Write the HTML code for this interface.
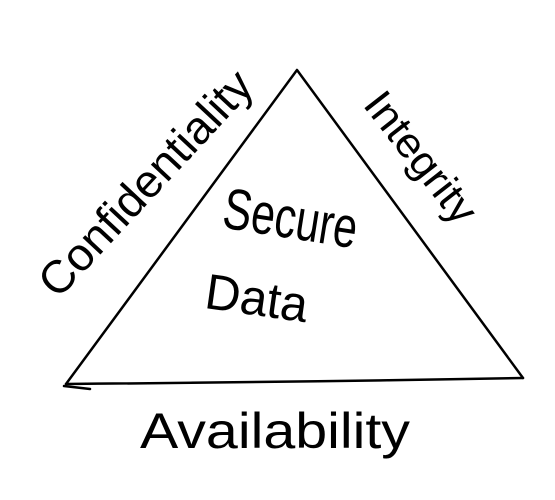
<!DOCTYPE html>
<html><head><style>html,body{margin:0;padding:0;background:#fff;width:555px;height:500px;overflow:hidden}</style></head>
<body>
<svg width="555" height="500" viewBox="0 0 555 500" xmlns="http://www.w3.org/2000/svg">
<rect width="555" height="500" fill="#fff"/>
<g fill="none" stroke="#000" stroke-width="2.5" stroke-linecap="round" stroke-linejoin="round">
<path d="M66,384 L297,70 L523,378"/>
<path d="M66,384 Q300,382 523,378"/>
<path d="M64,386 L90,389"/>
</g>
<g font-family="Liberation Sans, sans-serif" font-weight="normal" fill="#000">
<text x="0" y="0" font-size="46" textLength="290" lengthAdjust="spacingAndGlyphs" transform="translate(58,300) rotate(-47)">Confidentiality</text>
<text x="0" y="0" font-size="42" textLength="155" lengthAdjust="spacingAndGlyphs" transform="translate(362,105) rotate(52)">Integrity</text>
<text x="222" y="238" font-size="58" textLength="135" lengthAdjust="spacingAndGlyphs" transform="rotate(9 290 225)">Secure</text>
<text x="205" y="315" font-size="50" textLength="103" lengthAdjust="spacingAndGlyphs" transform="rotate(8 255 300)">Data</text>
<text x="140" y="448" font-size="50" textLength="270" lengthAdjust="spacingAndGlyphs">Availability</text>
</g>
</svg>
</body></html>
